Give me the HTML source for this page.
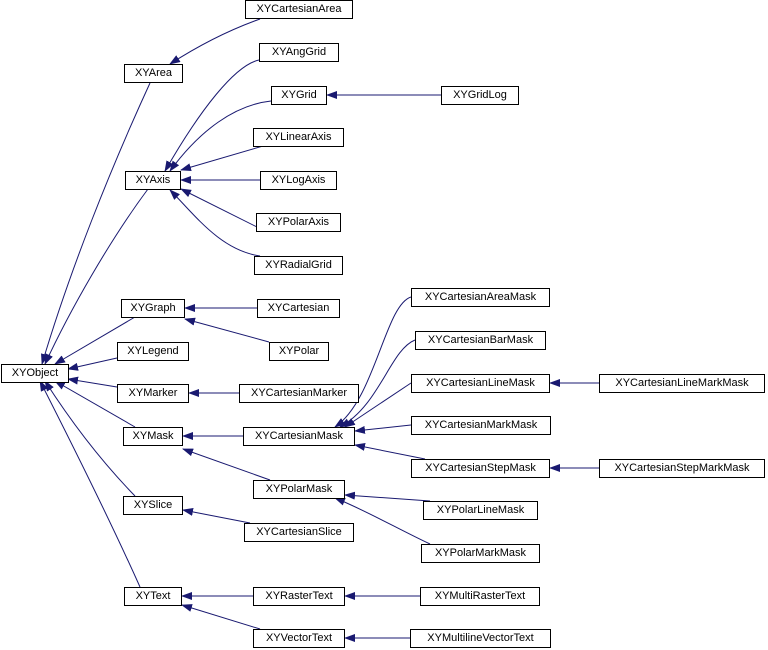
<!DOCTYPE html>
<html><head><style>
body{margin:0;background:#fff;}
.b{position:absolute;border:1px solid #000;background:#fff;font:11px "Liberation Sans",Arial,sans-serif;text-align:center;box-sizing:border-box;height:19px;line-height:17px;color:#000;white-space:nowrap}
</style></head><body>
<div style="position:relative;width:768px;height:650px;overflow:hidden">
<svg width="768" height="650" style="position:absolute;left:0;top:0">
<defs><marker id="a" markerUnits="userSpaceOnUse" markerWidth="11" markerHeight="8" refX="10" refY="4" orient="auto"><path d="M0,0L11,4L0,8z" fill="#191970"/></marker></defs>
<g fill="none" stroke="#191970" stroke-width="1" marker-end="url(#a)">
<path d="M260,19 Q215,35 170,64"/>
<path d="M259,60 C235,65 200,110 165,171"/>
<path d="M271,101 C235,105 200,130 170,171"/>
<path d="M263,146 L181,170"/>
<path d="M260,180 L181,180"/>
<path d="M265,231 L181,189"/>
<path d="M260,256 C220,250 195,215 170,190"/>
<path d="M441,95 L327,95"/>
<path d="M150,83 C110,170 70,270 42,364"/>
<path d="M148,189 C110,240 70,310 45,364"/>
<path d="M135,317 L55,364"/>
<path d="M117,358 L68,369"/>
<path d="M117,387 L68,379"/>
<path d="M135,427 L55,381"/>
<path d="M135,496 C100,460 70,420 45,381"/>
<path d="M140,587 C110,520 70,440 40,381"/>
<path d="M257,308 L185,308"/>
<path d="M269,342 L185,319"/>
<path d="M239,393 L189,393"/>
<path d="M243,436 L183,436"/>
<path d="M270,480 L183,449"/>
<path d="M250,523 L183,510"/>
<path d="M253,596 L182,596"/>
<path d="M260,629 L182,605"/>
<path d="M411,297 C385,305 375,400 335,427"/>
<path d="M415,340 C390,350 380,405 340,427"/>
<path d="M411,383 L345,427"/>
<path d="M411,425 L355,431"/>
<path d="M425,459 L355,445"/>
<path d="M599,383 L550,383"/>
<path d="M599,468 L550,468"/>
<path d="M430,501 L345,495"/>
<path d="M430,544 C400,530 365,510 335,498"/>
<path d="M420,596 L345,596"/>
<path d="M410,638 L345,638"/>
</g></svg>
<div class="b" style="left:245px;top:0;width:108px">XYCartesianArea</div>
<div class="b" style="left:259px;top:43px;width:80px">XYAngGrid</div>
<div class="b" style="left:271px;top:86px;width:56px">XYGrid</div>
<div class="b" style="left:441px;top:86px;width:78px">XYGridLog</div>
<div class="b" style="left:253px;top:128px;width:91px">XYLinearAxis</div>
<div class="b" style="left:260px;top:171px;width:77px">XYLogAxis</div>
<div class="b" style="left:256px;top:213px;width:85px">XYPolarAxis</div>
<div class="b" style="left:254px;top:256px;width:89px">XYRadialGrid</div>
<div class="b" style="left:124px;top:64px;width:59px">XYArea</div>
<div class="b" style="left:125px;top:171px;width:56px">XYAxis</div>
<div class="b" style="left:121px;top:299px;width:64px">XYGraph</div>
<div class="b" style="left:117px;top:342px;width:72px">XYLegend</div>
<div class="b" style="left:1px;top:364px;width:68px">XYObject</div>
<div class="b" style="left:117px;top:384px;width:72px">XYMarker</div>
<div class="b" style="left:123px;top:427px;width:60px">XYMask</div>
<div class="b" style="left:123px;top:496px;width:60px">XYSlice</div>
<div class="b" style="left:124px;top:587px;width:58px">XYText</div>
<div class="b" style="left:257px;top:299px;width:83px">XYCartesian</div>
<div class="b" style="left:269px;top:342px;width:60px">XYPolar</div>
<div class="b" style="left:239px;top:384px;width:120px">XYCartesianMarker</div>
<div class="b" style="left:243px;top:427px;width:112px">XYCartesianMask</div>
<div class="b" style="left:253px;top:480px;width:92px">XYPolarMask</div>
<div class="b" style="left:244px;top:523px;width:110px">XYCartesianSlice</div>
<div class="b" style="left:253px;top:587px;width:92px">XYRasterText</div>
<div class="b" style="left:253px;top:629px;width:92px">XYVectorText</div>
<div class="b" style="left:411px;top:288px;width:139px">XYCartesianAreaMask</div>
<div class="b" style="left:415px;top:331px;width:131px">XYCartesianBarMask</div>
<div class="b" style="left:411px;top:374px;width:139px">XYCartesianLineMask</div>
<div class="b" style="left:411px;top:416px;width:140px">XYCartesianMarkMask</div>
<div class="b" style="left:411px;top:459px;width:139px">XYCartesianStepMask</div>
<div class="b" style="left:423px;top:501px;width:115px">XYPolarLineMask</div>
<div class="b" style="left:421px;top:544px;width:119px">XYPolarMarkMask</div>
<div class="b" style="left:599px;top:374px;width:166px">XYCartesianLineMarkMask</div>
<div class="b" style="left:599px;top:459px;width:166px">XYCartesianStepMarkMask</div>
<div class="b" style="left:420px;top:587px;width:120px">XYMultiRasterText</div>
<div class="b" style="left:410px;top:629px;width:141px">XYMultilineVectorText</div>
</div>
</body></html>
